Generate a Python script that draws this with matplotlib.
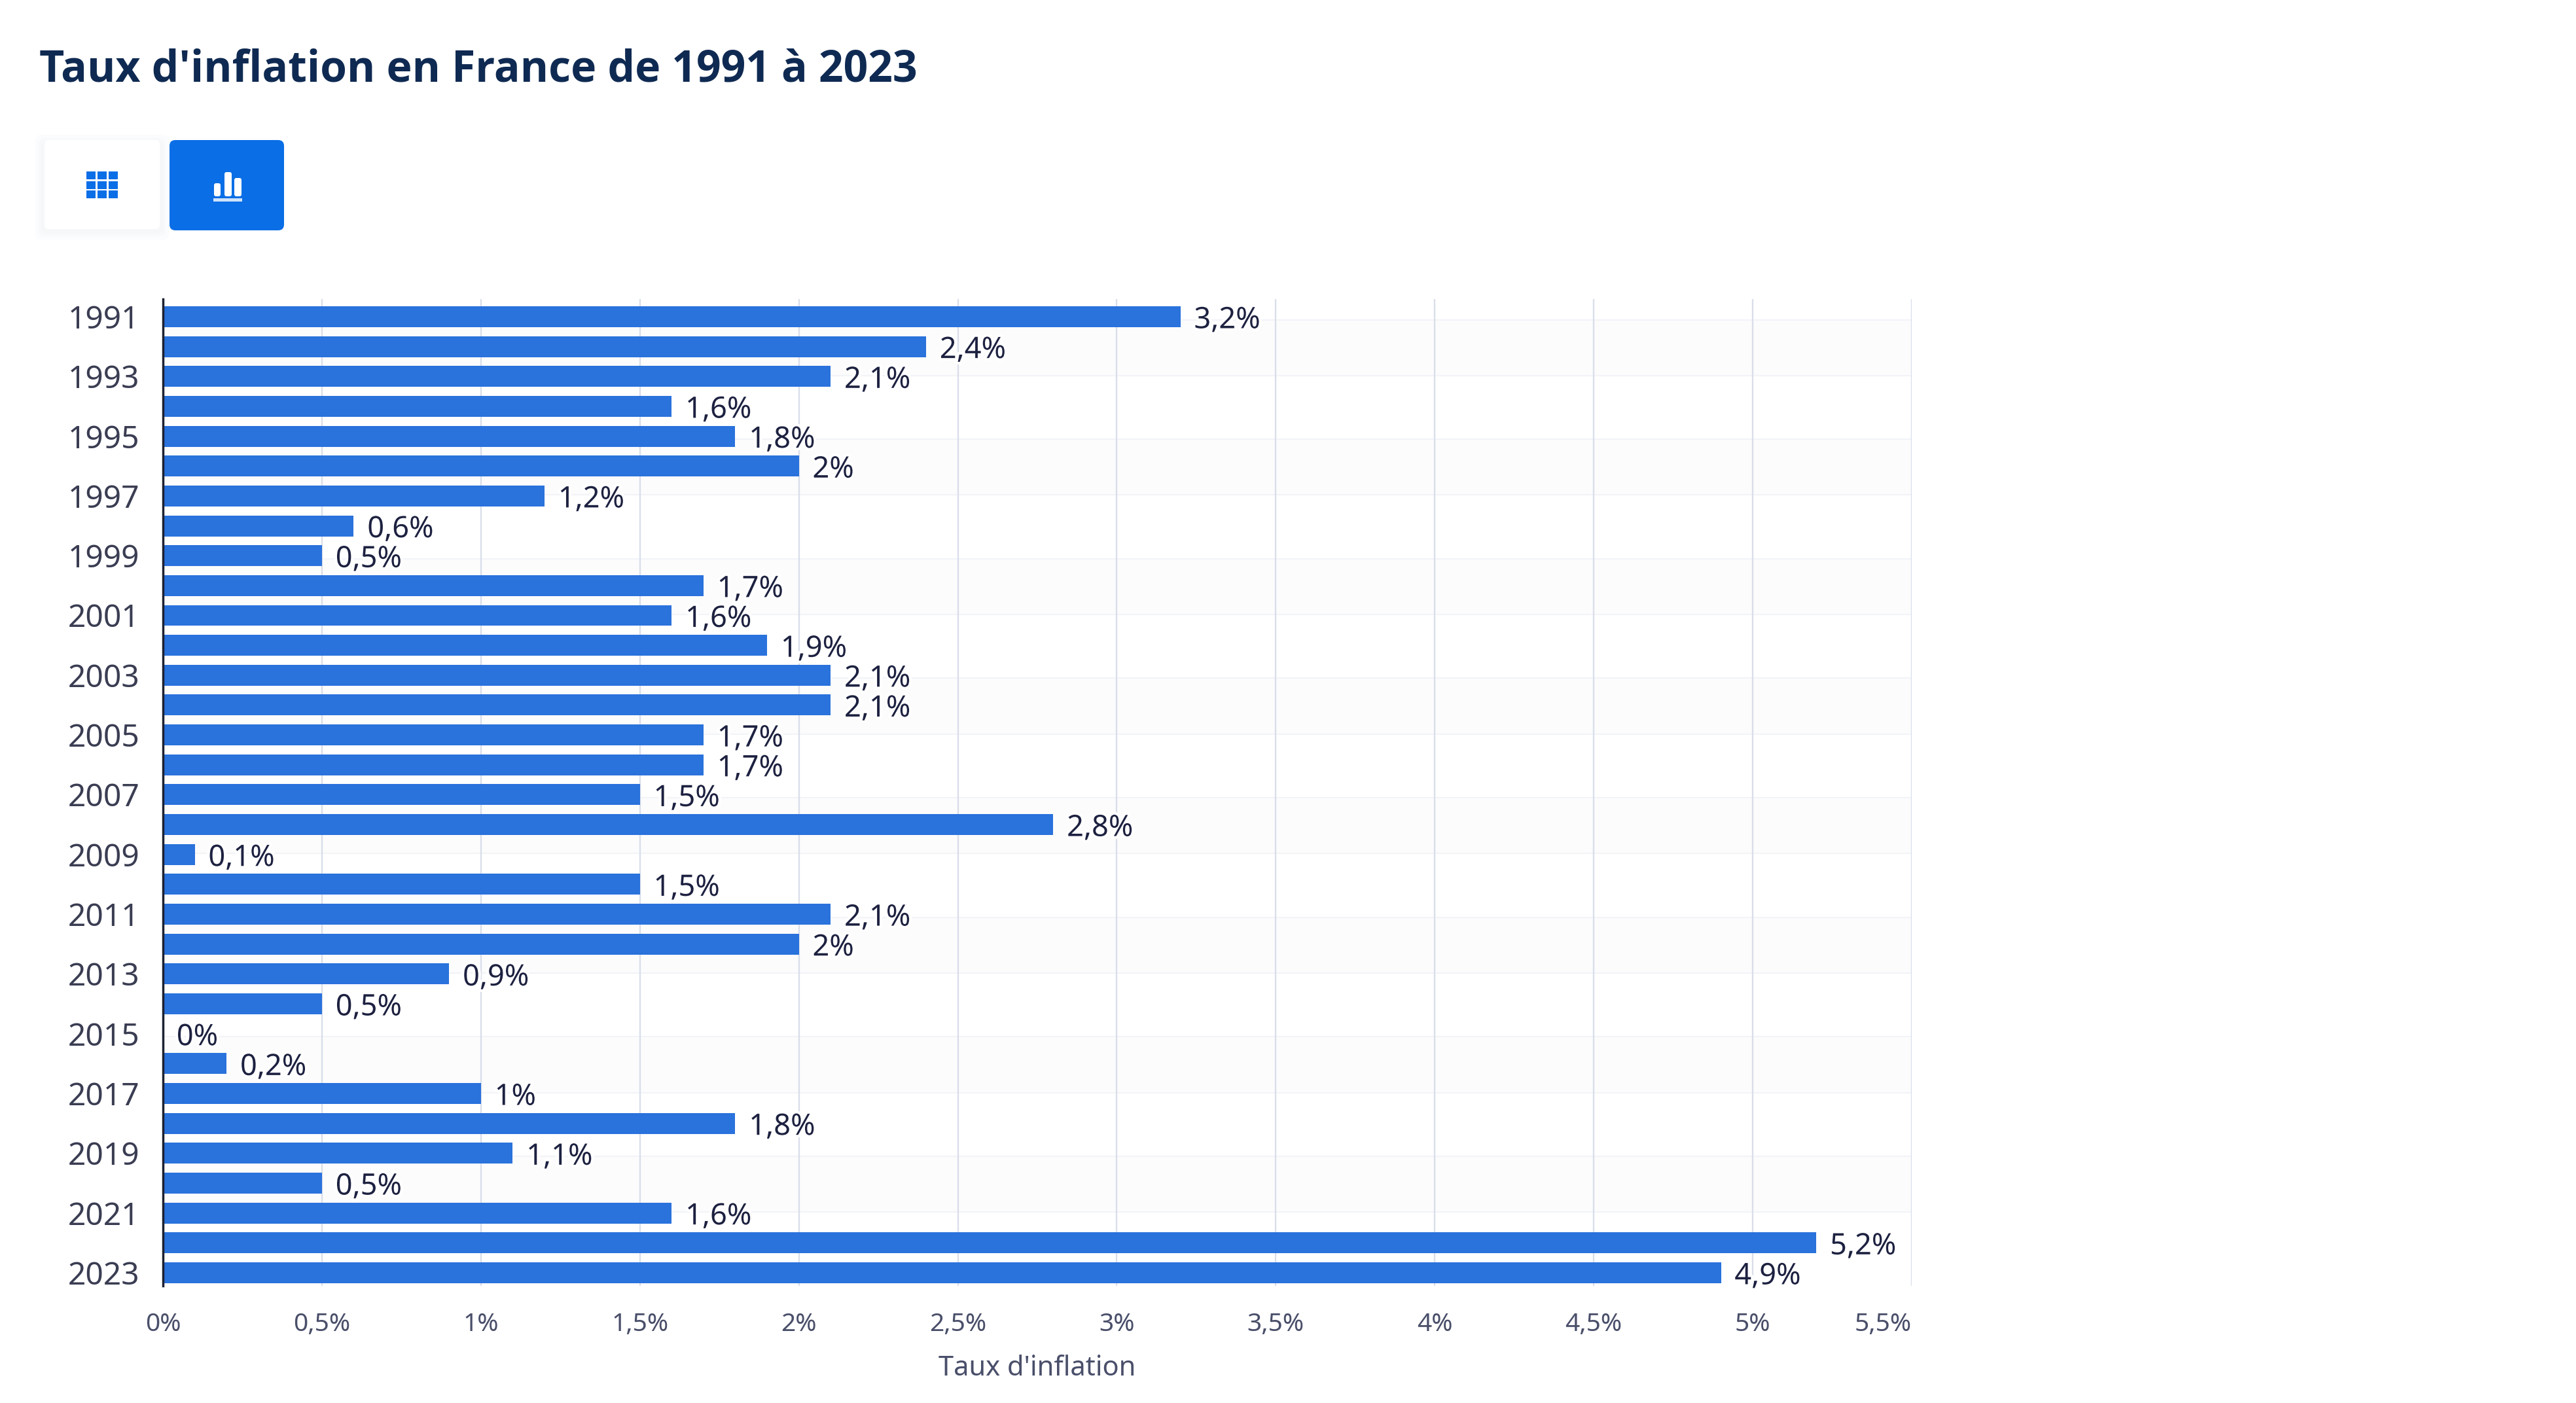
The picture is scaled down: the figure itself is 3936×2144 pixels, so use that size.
import matplotlib
matplotlib.use("Agg")
import matplotlib.pyplot as plt
import matplotlib.patheffects as pe
from matplotlib.patches import FancyBboxPatch, Rectangle
import numpy as np

title = "Taux d'inflation en France de 1991 à 2023"
years = list(range(1991, 2024))
values = [3.2, 2.4, 2.1, 1.6, 1.8, 2.0, 1.2, 0.6, 0.5, 1.7, 1.6, 1.9, 2.1, 2.1, 1.7, 1.7, 1.5,
          2.8, 0.1, 1.5, 2.1, 2.0, 0.9, 0.5, 0.0, 0.2, 1.0, 1.8, 1.1, 0.5, 1.6, 5.2, 4.9]
x_ticks = [0, 0.5, 1, 1.5, 2, 2.5, 3, 3.5, 4, 4.5, 5, 5.5]
x_label = "Taux d'inflation"


def pct(v):
    s = f"{v:.1f}".rstrip("0").rstrip(".")
    return s.replace(".", ",") + "%"


W, H = 3936, 2144
plt.rcParams['font.family'] = ['Noto Sans', 'DejaVu Sans']
fig = plt.figure(figsize=(W / 100, H / 100), dpi=100, facecolor='white')


def fx(p):
    return p / W


def fy(p):
    return 1 - p / H


L, R, T, B = 249, 2921, 457, 1965
ax = fig.add_axes([fx(L), fy(B), fx(R - L), (B - T) / H])
ypos = np.arange(len(years))
ax.set_xlim(0, 5.5)
ax.set_ylim(32.44, -0.59)
ax.set_axisbelow(True)

# faint alternating stripes behind the plot, two rows high, every four rows
for i in ypos[:30:4]:
    ax.axhspan(i + 0.1, i + 1.97, fc='#fcfcfd', ec='none', zorder=0)
    ax.hlines([i + 0.1, i + 1.97], 0, 5.5, color='#f2f4f8', lw=1.5, zorder=0.5)

ax.barh(ypos, values, height=0.70, color='#2a72dc', zorder=3)
ax.set_xticks(x_ticks)
ax.set_xticklabels([pct(v) for v in x_ticks], fontsize=28, color='#4a4f6a')
ax.get_xticklabels()[-1].set_ha('right')
ax.set_yticks(ypos[::2])
ax.set_yticklabels([str(y) for y in years[::2]], fontsize=34.5, color='#3a3d52')
ax.tick_params(axis='x', length=0, pad=29)
ax.tick_params(axis='y', length=0, pad=25.5)
ax.grid(axis='x', color='#d9deea', lw=1.7, zorder=1)
ax.grid(axis='y', visible=False)
for s in ['top', 'right', 'bottom']:
    ax.spines[s].set_visible(False)
ax.spines['left'].set_color('#1d2233')
ax.spines['left'].set_linewidth(2.5)
ax.spines['left'].set_zorder(5)
ax.set_xlabel(x_label, fontsize=30, color='#4a4f6a', labelpad=19)

for y, v in zip(ypos, values):
    ax.annotate(pct(v), (v, y), xytext=(15, -4), textcoords='offset points', va='center', ha='left',
                fontsize=32.5, color='#1d2140', zorder=4,
                path_effects=[pe.withStroke(linewidth=6, foreground='white')])

fig.text(fx(60), fy(107), title, fontsize=47.5, fontweight='bold', color='#0f2a52',
         family=['Open Sans', 'DejaVu Sans'], va='center', ha='left')

# view switch buttons
ovl = fig.add_axes([0, 0, 1, 1], facecolor='none')
ovl.set_xlim(0, W)
ovl.set_ylim(H, 0)
ovl.axis('off')
for grow in (14, 9, 5):
    ovl.add_patch(FancyBboxPatch((68 - grow, 216 + 4 - grow), 176 + 2 * grow, 132 + 2 * grow,
                                 boxstyle='round,pad=0,rounding_size=10', fc='#eef0f4', ec='none', alpha=0.18))
ovl.add_patch(FancyBboxPatch((68, 214), 176, 136, boxstyle='round,pad=0,rounding_size=6', fc='white', ec='none'))
ovl.add_patch(FancyBboxPatch((259, 214), 175, 138, boxstyle='round,pad=0,rounding_size=9', fc='#0a6ee6', ec='none'))
for r in range(3):
    for c in range(3):
        ovl.add_patch(Rectangle((132 + c * 17, 262 + r * 14.5), 14, 12, fc='#0a6ee6', ec='none'))
for xb, top, wd in [(327, 280, 10), (343, 263, 11), (358, 272, 11)]:
    ovl.add_patch(FancyBboxPatch((xb, top), wd, 300 - top, boxstyle='round,pad=0,rounding_size=3',
                                 fc='white', ec='none'))
ovl.add_patch(Rectangle((326, 303), 44, 5, fc='#cfe2fb', ec='none'))

fig.savefig('out.png', dpi=100)
